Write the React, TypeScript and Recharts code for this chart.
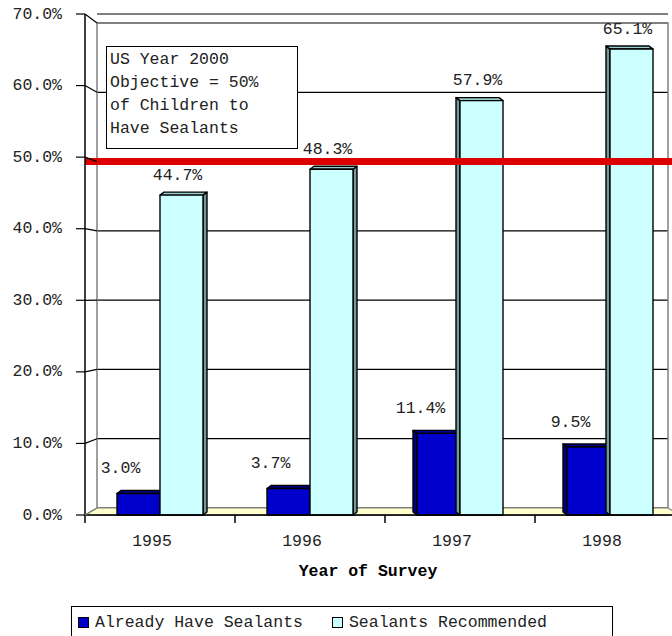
import { Bar, BarChart, CartesianGrid, Label, LabelList, Legend, ReferenceArea, ReferenceLine, XAxis, YAxis } from 'recharts';

const years = ['1995', '1996', '1997', '1998'];
const alreadyHave = [3.0, 3.7, 11.4, 9.5];
const recommended = [44.7, 48.3, 57.9, 65.1];
const percentTicks = [0, 10, 20, 30, 40, 50, 60, 70];
const objective = 50;
const objectiveNote = ['US Year 2000', 'Objective = 50%', 'of Children to', 'Have Sealants'];
const axisTitle = 'Year of Survey';

const series = [
    { key: 'alreadyHave', label: 'Already Have Sealants', front: '#0000CC', side: '#00007A', top: '#000099', labelDx: -18, labelLift: 25 },
    { key: 'recommended', label: 'Sealants Recommended', front: '#CCFFFF', side: '#6E9C9C', top: '#99CCCC', labelDx: -4, labelLift: 20 },
] as const;

const data = years.map((year, i) => ({ year, alreadyHave: alreadyHave[i], recommended: recommended[i] }));

const FONT = "'Liberation Mono', 'Courier New', monospace";
const FONT_SIZE = 16.5;
const CHART_W = 700;
const CHART_H = 636;
const PLOT = { left: 85, top: 14, right: 685, bottom: 515 };
const PLOT_H = PLOT.bottom - PLOT.top;
const BAND_W = (PLOT.right - PLOT.left) / years.length;
const X_AXIS_H = 64;
const TICK_LEN = 9;
const TICK_GAP = 14;

// fake 3D: the back wall sits a little right of, and squeezed inside, the front axis
const DEPTH_X = 12;
const BACK_TOP_DROP = 9;
const BACK_FLOOR_RISE = 7;
const BACK_RIGHT_INSET = 17;
const VANISH_X = 400;
const BLOCK_DX = 4;
const BLOCK_DY = 3;

const maxPercent = percentTicks[percentTicks.length - 1];
const backSpan = (maxPercent * PLOT_H) / (PLOT_H - BACK_TOP_DROP - BACK_FLOOR_RISE);
const backLow = (-BACK_FLOOR_RISE * backSpan) / PLOT_H;
const backDomain = [backLow, backLow + backSpan];

function PercentTick(props: any) {
    const { x, y, payload } = props;
    const value = payload.value as number;
    const axisX = x + TICK_LEN + TICK_GAP;
    const backY = y - BACK_FLOOR_RISE + (value / maxPercent) * (BACK_FLOOR_RISE + BACK_TOP_DROP);
    return (
        <g>
            <line x1={axisX} y1={y} x2={axisX + DEPTH_X} y2={backY} stroke={value === 0 ? '#808080' : '#000'} strokeWidth={1.2} />
            <text x={x} y={y} textAnchor="end" dominantBaseline="central" fontFamily={FONT} fontSize={FONT_SIZE} fill="#222">
                {`${value.toFixed(1)}%`}
            </text>
        </g>
    );
}

// year label under each band, plus the boundary marks between bands
function YearTick(props: any) {
    const { x, y, payload, index } = props;
    const left = x - BAND_W / 2;
    const right = x + BAND_W / 2;
    return (
        <g>
            <line x1={left} y1={y} x2={left} y2={y + 8} stroke="#000" strokeWidth={1.5} />
            {index === years.length - 1 && <line x1={right} y1={y} x2={right} y2={y + 8} stroke="#000" strokeWidth={1.5} />}
            <text x={x - 8} y={y + 26} textAnchor="middle" dominantBaseline="central" fontFamily={FONT} fontSize={FONT_SIZE} fill="#222">
                {payload.value}
            </text>
        </g>
    );
}

function BackWall(props: any) {
    const { x, y, width, height } = props;
    const left = x + DEPTH_X;
    const right = x + width - BACK_RIGHT_INSET;
    return (
        <polyline
            points={`${left},${y + height} ${left},${y} ${right},${y} ${right},${y + height}`}
            fill="none"
            stroke="#808080"
            strokeWidth={1.5}
        />
    );
}

function Floor(props: any) {
    const { x, y, width, height } = props;
    const backLeft = x + DEPTH_X;
    const backRight = x + width - BACK_RIGHT_INSET;
    return (
        <polygon
            points={`${x},${y + height} ${backLeft},${y} ${backRight},${y} ${backRight + DEPTH_X},${y + height}`}
            fill="#FFFFCC"
            stroke="#808080"
            strokeWidth={1.2}
        />
    );
}

function Block(props: any) {
    const { x, y, width, height, colors } = props;
    if (!height || height <= 0) return null;
    const s = x + width / 2 < VANISH_X ? 1 : -1;
    const edge = s > 0 ? x + width : x;
    const dx = s * BLOCK_DX;
    const topFace = `${x},${y} ${x + dx},${y - BLOCK_DY} ${x + width + dx},${y - BLOCK_DY} ${x + width},${y}`;
    const sideFace = `${edge},${y} ${edge + dx},${y - BLOCK_DY} ${edge + dx},${y + height - BLOCK_DY} ${edge},${y + height}`;
    return (
        <g stroke="#000" strokeWidth={1.4} strokeLinejoin="round">
            <polygon points={sideFace} fill={colors.side} />
            <polygon points={topFace} fill={colors.top} />
            <rect x={x} y={y} width={width} height={height} fill={colors.front} />
        </g>
    );
}

function valueLabel(dx: number, lift: number) {
    return (props: any) => {
        const box = props.viewBox ?? props;
        const { x, y, width } = box;
        return (
            <text
                x={x + width / 2 + dx}
                y={y - lift}
                textAnchor="middle"
                dominantBaseline="central"
                fontFamily={FONT}
                fontSize={FONT_SIZE}
                fill="#222"
            >
                {`${Number(props.value).toFixed(1)}%`}
            </text>
        );
    };
}

function LegendBox() {
    return (
        <div
            style={{
                display: 'flex',
                alignItems: 'center',
                boxSizing: 'border-box',
                height: '100%',
                paddingLeft: 6,
                border: '1.5px solid #000',
                background: '#fff',
                fontFamily: FONT,
                fontSize: FONT_SIZE,
                color: '#222',
                whiteSpace: 'pre',
            }}
        >
            {series.map((s, i) => (
                <span key={s.key} style={{ display: 'inline-flex', alignItems: 'center', marginLeft: i ? 29 : 0 }}>
                    <span style={{ width: 9, height: 9, background: s.front, border: '1px solid #000', marginRight: 6 }} />
                    {s.label}
                </span>
            ))}
        </div>
    );
}

export default function App() {
    return (
        <div style={{ position: 'absolute', left: 0, top: 0, width: 672, height: CHART_H, overflow: 'hidden', background: '#fff' }}>
            <BarChart
                width={CHART_W}
                height={CHART_H}
                data={data}
                barSize={43}
                barGap={0}
                margin={{ top: PLOT.top, right: CHART_W - PLOT.right, bottom: CHART_H - PLOT.bottom - X_AXIS_H, left: 0 }}
            >
                <XAxis
                    xAxisId="year"
                    dataKey="year"
                    interval={0}
                    height={X_AXIS_H}
                    axisLine={{ stroke: '#000', strokeWidth: 1.5 }}
                    tickLine={false}
                    tickSize={0}
                    tickMargin={0}
                    tick={<YearTick />}
                >
                    <Label
                        content={(props: any) => {
                            const vb = props.viewBox;
                            return (
                                <text
                                    x={vb.x + vb.width / 2 - 17}
                                    y={vb.y + 56}
                                    textAnchor="middle"
                                    dominantBaseline="central"
                                    fontFamily={FONT}
                                    fontSize={FONT_SIZE}
                                    fontWeight="bold"
                                    fill="#000"
                                >
                                    {axisTitle}
                                </text>
                            );
                        }}
                    />
                </XAxis>
                <YAxis
                    yAxisId="front"
                    domain={[0, maxPercent]}
                    ticks={percentTicks}
                    interval={0}
                    width={PLOT.left}
                    axisLine={{ stroke: '#000', strokeWidth: 1.5 }}
                    tickLine={{ stroke: '#000', strokeWidth: 1.2 }}
                    tickSize={TICK_LEN}
                    tickMargin={TICK_GAP}
                    tick={<PercentTick />}
                />
                <YAxis yAxisId="back" orientation="right" width={0} domain={backDomain} ticks={percentTicks} allowDataOverflow hide />
                <CartesianGrid
                    xAxisId="year"
                    yAxisId="back"
                    vertical={false}
                    stroke="#000"
                    strokeWidth={1.2}
                    x={PLOT.left + DEPTH_X}
                    width={PLOT.right - PLOT.left - DEPTH_X - BACK_RIGHT_INSET}
                />
                <ReferenceArea xAxisId="year" yAxisId="back" y1={backLow} y2={0} shape={<Floor />} />
                <ReferenceArea xAxisId="year" yAxisId="back" y1={0} y2={maxPercent} shape={<BackWall />} />
                {series.map((s) => (
                    <Bar
                        key={s.key}
                        xAxisId="year"
                        yAxisId="front"
                        dataKey={s.key}
                        name={s.label}
                        fill={s.front}
                        isAnimationActive={false}
                        shape={(p: any) => <Block {...p} colors={s} />}
                    >
                        <LabelList dataKey={s.key} content={valueLabel(s.labelDx, s.labelLift)} />
                    </Bar>
                ))}
                <ReferenceLine xAxisId="year" yAxisId="back" y={objective} stroke="#DD0000" strokeWidth={7} />
                <Legend
                    layout="horizontal"
                    verticalAlign="middle"
                    align="center"
                    content={() => <LegendBox />}
                    wrapperStyle={{ top: 606, left: 71, width: 542, height: 32 }}
                />
            </BarChart>
            <div
                style={{
                    position: 'absolute',
                    left: 106,
                    top: 46,
                    width: 192,
                    height: 103,
                    boxSizing: 'border-box',
                    border: '1.5px solid #000',
                    background: '#fff',
                    padding: '1px 0 0 3px',
                    fontFamily: FONT,
                    fontSize: FONT_SIZE,
                    lineHeight: '23px',
                    color: '#222',
                    whiteSpace: 'pre',
                }}
            >
                {objectiveNote.map((line) => (
                    <div key={line}>{line}</div>
                ))}
            </div>
        </div>
    );
}
